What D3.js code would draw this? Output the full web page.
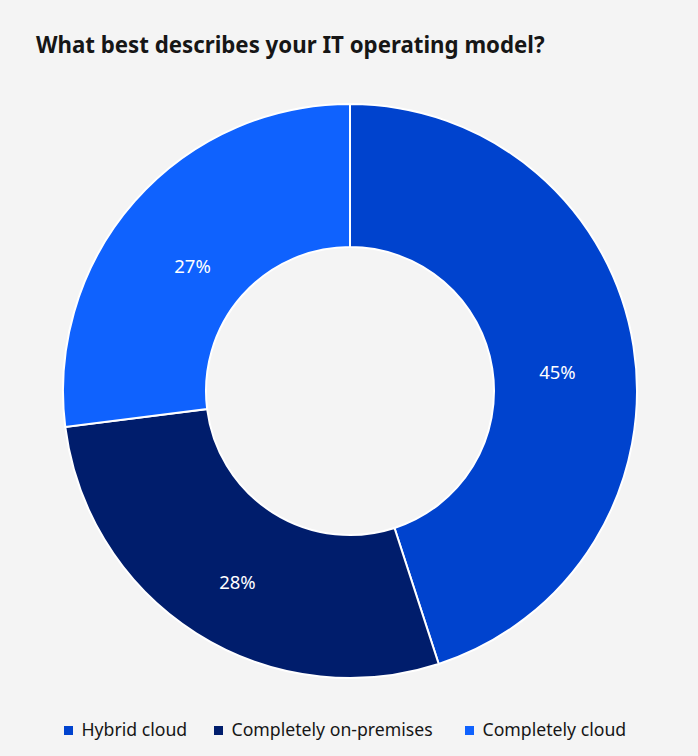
<!DOCTYPE html>
<html><head><meta charset="utf-8">
<script src="https://cdn.jsdelivr.net/npm/d3@7"></script>
<style>html,body{margin:0;padding:0;background:#f4f4f4;}svg{display:block;}</style>
</head><body>
<svg id="chart" width="698" height="756"></svg>
<script>
const title = "What best describes your IT operating model?";
const categories = ["Hybrid cloud", "Completely on-premises", "Completely cloud"];
const values = [45, 28, 27];
const colors = ["#0043ce", "#001d6c", "#0f62fe"];

const svg = d3.select("#chart");
const W = 698, H = 756;
svg.append("rect").attr("width", W).attr("height", H).attr("fill", "#f4f4f4");

const font = "'Noto Sans', 'Open Sans', sans-serif";

const t = svg.append("text").attr("x", 36).attr("y", 53)
  .attr("font-family", font).attr("font-weight", 700).attr("font-size", 21)
  .attr("fill", "#161616").text(title);
const tl = t.node().getComputedTextLength();
t.attr("font-size", 21 * 509 / tl);

const cx = 350, cy = 391, R = 287, r = 144;
const data = categories.map((c, i) => ({cat: c, value: values[i], color: colors[i]}));
const pie = d3.pie().value(d => d.value).sort(null);
const arc = d3.arc().innerRadius(r).outerRadius(R);
const labelArc = d3.arc().innerRadius(210).outerRadius(210);
const g = svg.append("g").attr("transform", `translate(${cx},${cy})`);
const arcs = pie(data);
g.selectAll("path").data(arcs).join("path")
  .attr("d", arc).attr("fill", d => d.data.color)
  .attr("stroke", "#ffffff").attr("stroke-width", 2);
g.selectAll("text").data(arcs).join("text")
  .attr("transform", d => { const c = labelArc.centroid(d); return `translate(${c[0]},${c[1] + 14})`; })
  .attr("text-anchor", "middle").attr("dy", "0.35em")
  .attr("font-family", font).attr("font-size", 18.5).attr("fill", "#ffffff")
  .text(d => d.data.value + "%");

// legend
const legendX = [64, 214, 465];
const targetW = [104, 203, 144];
const lg = svg.append("g");
const texts = [];
data.forEach((d, i) => {
  lg.append("rect").attr("x", legendX[i]).attr("y", 726).attr("width", 9).attr("height", 9).attr("fill", d.color);
  texts.push(lg.append("text").attr("x", legendX[i] + 17.5).attr("y", 735.5)
    .attr("font-family", font).attr("font-size", 17).attr("fill", "#161616").text(d.cat));
});
let sumW = 0; texts.forEach(tx => sumW += tx.node().getComputedTextLength());
const fs = 17 * d3.sum(targetW) / sumW;
texts.forEach(tx => tx.attr("font-size", fs));
</script>
</body></html>
